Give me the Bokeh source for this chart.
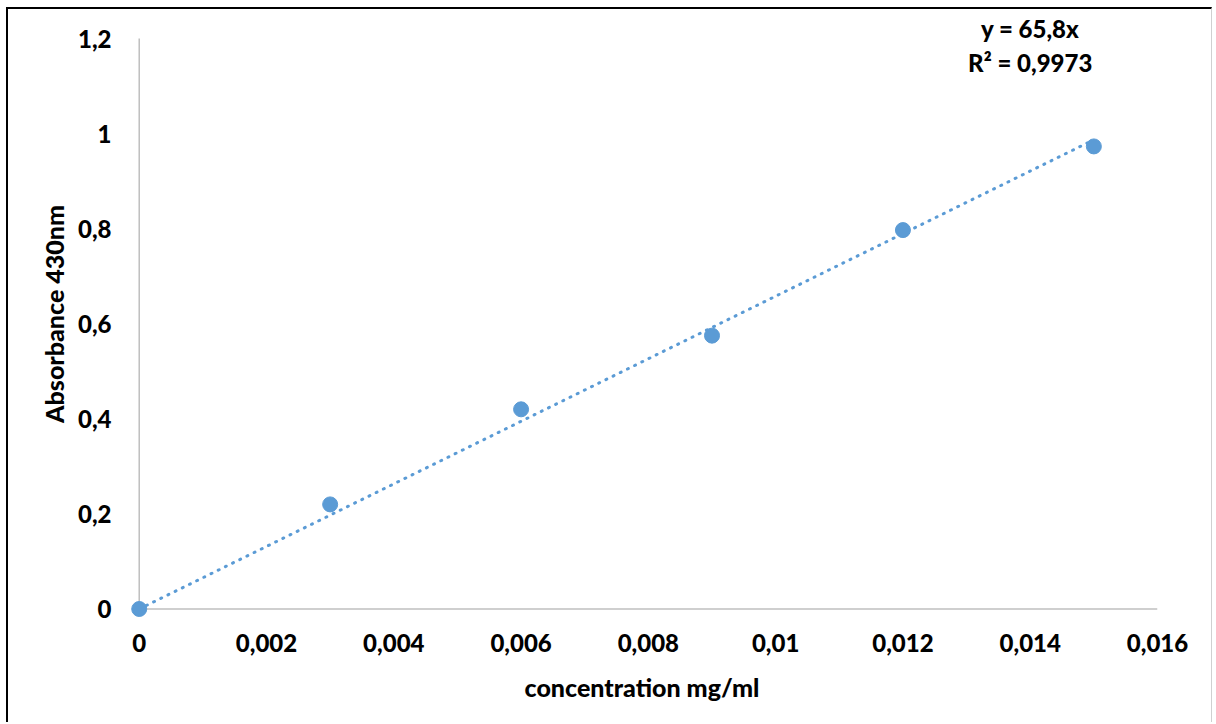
from bokeh.plotting import figure
from bokeh.models import Range1d, FixedTicker, Label
from bokeh.embed import file_html
from bokeh.resources import INLINE

concentration = [0.0, 0.003, 0.006, 0.009, 0.012, 0.015]
absorbance = [0.0, 0.22, 0.42, 0.575, 0.797, 0.973]
slope = 65.8
x_ticks = [0, 0.002, 0.004, 0.006, 0.008, 0.010, 0.012, 0.014, 0.016]
x_tick_labels = ["0", "0,002", "0,004", "0,006", "0,008", "0,01", "0,012", "0,014", "0,016"]
y_ticks = [0, 0.2, 0.4, 0.6, 0.8, 1.0, 1.2]
y_tick_labels = ["0", "0,2", "0,4", "0,6", "0,8", "1", "1,2"]
eq_text = "y = 65,8x"
r2_text = "R² = 0,9973"

FONT = "Lato Black"
BLUE = "#5B9BD5"
GREY = "#BFBFBF"

# frame: x from -0.0002 (page x ~126) to 0.016 (1157), y from -0.02 (page ~618) to 1.261 (page 9)
p = figure(width=1206, height=715, output_backend="svg", toolbar_location=None,
           x_range=Range1d(-0.0002, 0.016), y_range=Range1d(-0.02, 1.261),
           min_border_left=118, min_border_right=57, min_border_top=0, min_border_bottom=106,
           styles={"border-left": "2px solid black", "border-top": "2px solid black",
                   "border-right": "1px solid #d0d0d0", "margin-left": "6px", "margin-top": "7px"})
p.outline_line_color = None
p.grid.visible = False

for ax in (p.xaxis[0], p.yaxis[0]):
    ax.axis_line_color = None
    ax.major_tick_line_color = None
    ax.minor_tick_line_color = None
    ax.major_label_text_font = FONT
    ax.major_label_text_font_style = "bold"
    ax.major_label_text_font_size = "24px"
    ax.major_label_text_color = "black"
    ax.axis_label_text_font = FONT
    ax.axis_label_text_font_style = "bold"
    ax.axis_label_text_font_size = "25px"
    ax.axis_label_text_color = "black"

p.xaxis.ticker = FixedTicker(ticks=x_ticks)
p.xaxis.major_label_overrides = {t: l for t, l in zip(x_ticks, x_tick_labels)}
p.yaxis.ticker = FixedTicker(ticks=y_ticks)
p.yaxis.major_label_overrides = {t: l for t, l in zip(y_ticks, y_tick_labels)}
p.xaxis.major_label_standoff = 9
p.yaxis.major_label_standoff = 9
p.xaxis.axis_label = "concentration mg/ml"
p.yaxis.axis_label = "Absorbance 430nm"
p.xaxis.axis_label_standoff = 17
p.yaxis.axis_label_standoff = 6

# axis lines drawn in data space so the origin marker is not clipped
p.segment(x0=[x_ticks[0], x_ticks[0]], y0=[y_ticks[0], y_ticks[0]],
          x1=[x_ticks[-1], x_ticks[0]], y1=[y_ticks[0], y_ticks[-1]],
          line_color=GREY, line_width=1.5)

trend_x = [concentration[0], concentration[-1]]
trend_y = [slope * v for v in trend_x]
p.line(trend_x, trend_y, line_color=BLUE, line_width=3, line_dash="1 7", line_cap="round")
p.scatter(concentration, absorbance, size=15, fill_color=BLUE, line_color=BLUE)

for txt, yv in ((eq_text, 1.221), (r2_text, 1.1496)):
    p.add_layout(Label(x=0.0140, y=yv, text=txt, text_align="center", text_baseline="middle",
                       text_font=FONT, text_font_style="bold", text_font_size="24px",
                       text_color="black"))

open("out.html", "w").write(file_html(p, INLINE))
